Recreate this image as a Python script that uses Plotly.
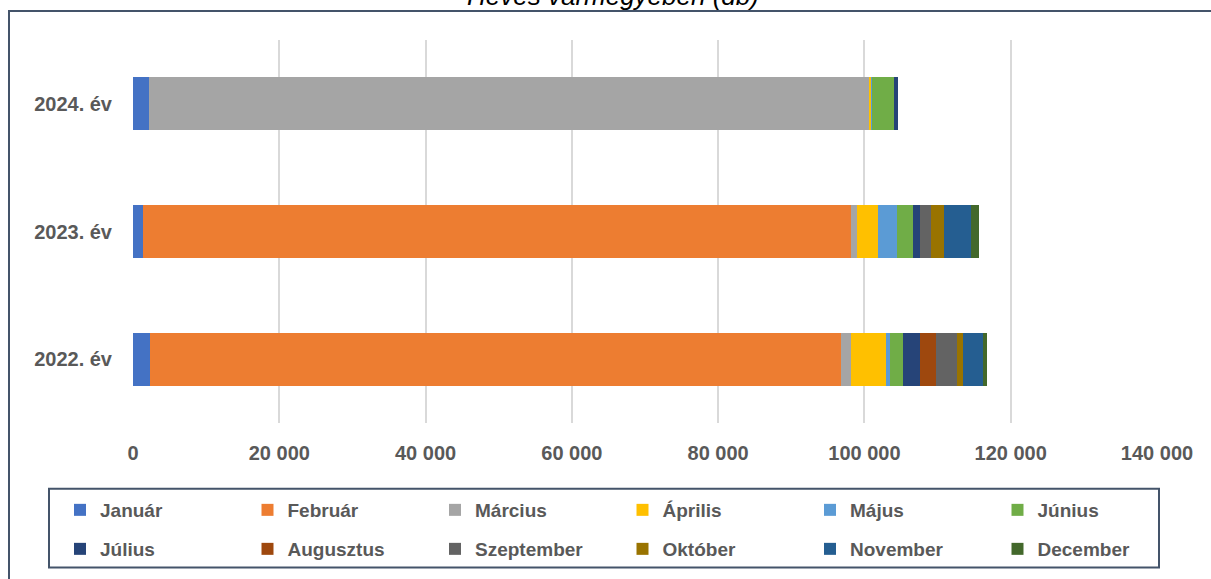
import plotly.graph_objects as go

years = ["2022. év", "2023. év", "2024. év"]
months = ["Január", "Február", "Március", "Április", "Május", "Június",
          "Július", "Augusztus", "Szeptember", "Október", "November", "December"]
colors = ["#4472C4", "#ED7D31", "#A5A5A5", "#FFC000", "#5B9BD5", "#70AD47",
          "#264478", "#9E480E", "#636363", "#997300", "#255E91", "#43682B"]

# values per month, order: 2022, 2023, 2024
jan = [2300, 1400, 2200]
feb = [94500, 96700, 50]
mar = [1370, 950, 98500]
apr = [4790, 2870, 200]
maj = [550, 2500, 100]
jun = [1780, 2280, 3000]
jul = [2320, 960, 550]
aug = [2190, 0, 0]
szep = [2870, 1500, 0]
okt = [820, 1780, 0]
nov = [2730, 3690, 0]
dec = [550, 1090, 0]
values = [jan, feb, mar, apr, maj, jun, jul, aug, szep, okt, nov, dec]

x_ticks = [0, 20000, 40000, 60000, 80000, 100000, 120000, 140000]
x_labels = ["0", "20 000", "40 000", "60 000", "80 000", "100 000", "120 000", "140 000"]

W, H = 1211, 579
L, R, T, B = 133, 54, 40, 155
pw, ph = W - L - R, H - T - B

def px(x):
    return (x - L) / pw

def py(y):
    return (H - B - y) / ph

fig = go.Figure()
for i, (m, c, v) in enumerate(zip(months, colors, values)):
    fig.add_trace(go.Bar(y=years, x=v, name=m, orientation="h",
                         legend="legend" if i < 6 else "legend2",
                         marker=dict(color=c, line=dict(width=0))))

fnt = "Liberation Sans"
leg_common = dict(orientation="h", traceorder="normal",
                  xanchor="left", yanchor="middle",
                  entrywidth=142.5, entrywidthmode="pixels",
                  font=dict(family=fnt, size=19, color="#595959", weight="bold"),
                  bgcolor="rgba(0,0,0,0)", itemclick=False)

fig.update_layout(
    width=W, height=H,
    margin=dict(l=L, r=R, t=T, b=B),
    barmode="stack", bargap=0.586,
    plot_bgcolor="white", paper_bgcolor="white",
    xaxis=dict(range=[0, 140000], tickvals=x_ticks, ticktext=x_labels,
               showgrid=True, gridcolor="#D9D9D9", gridwidth=1.5,
               zeroline=False, showline=False, ticks="",
               ticklabelstandoff=16,
               tickfont=dict(family=fnt, size=20, color="#595959", weight="bold")),
    yaxis=dict(showgrid=False, zeroline=False, showline=False, ticks="",
               ticklabelstandoff=20, fixedrange=True,
               tickfont=dict(family=fnt, size=20, color="#595959", weight="bold")),
    showlegend=True,
    legend=dict(x=px(60), y=py(510), **leg_common),
    legend2=dict(x=px(60), y=py(549), **leg_common),
    shapes=[
        dict(type="rect", xref="paper", yref="paper",
             x0=px(9), x1=px(1240), y0=py(610), y1=py(11),
             line=dict(color="#44546A", width=2), fillcolor="rgba(0,0,0,0)"),
        dict(type="rect", xref="paper", yref="paper",
             x0=px(49), x1=px(1159), y0=py(569), y1=py(490),
             line=dict(color="#44546A", width=2), fillcolor="rgba(0,0,0,0)"),
    ],
    annotations=[
        dict(text="Heves vármegyében (db)", xref="paper", yref="paper",
             x=px(613), y=py(13), xanchor="center", yanchor="bottom",
             showarrow=False,
             font=dict(family=fnt, size=26, color="#000000", style="italic")),
    ],
)

fig.write_html("out.html", config={"displayModeBar": False},
               post_script="document.body.style.margin='0';")
